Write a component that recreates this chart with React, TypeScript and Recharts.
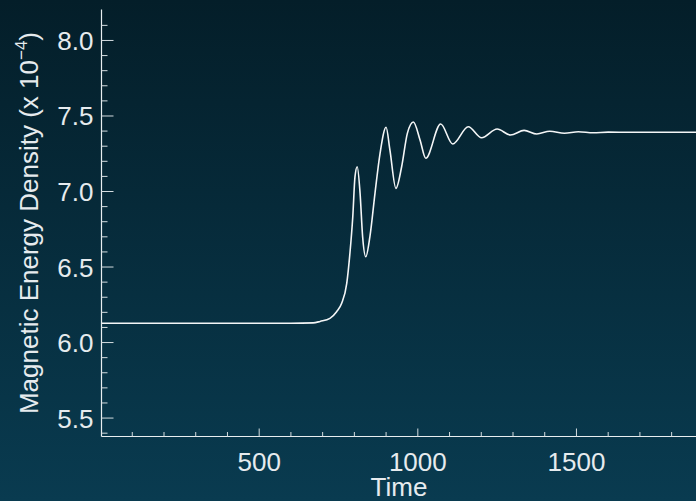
import React from "react";
import { LineChart, Line, XAxis, YAxis } from "recharts";

// time samples and magnetic energy density (x 1e-4)
const timeValues = [
  3, 300, 600, 670, 692, 723, 744, 760, 776, 786, 795, 802, 809, 818, 826, 836,
  849, 865, 881, 900, 912, 931, 949, 967, 986, 1007, 1025, 1072, 1110, 1159,
  1201, 1250, 1292, 1335, 1375, 1416, 1462, 1506, 1553, 1600, 1700, 1800, 1902,
];
const energyValues = [
  6.128, 6.128, 6.128, 6.13, 6.14, 6.16, 6.204, 6.26, 6.392, 6.591, 6.833,
  7.098, 7.164, 6.988, 6.701, 6.568, 6.701, 6.988, 7.253, 7.425, 7.275, 7.021,
  7.164, 7.385, 7.46, 7.341, 7.22, 7.447, 7.315, 7.429, 7.356, 7.414, 7.374,
  7.405, 7.381, 7.399, 7.386, 7.396, 7.389, 7.393, 7.392, 7.392, 7.392,
];

const xTicks = [
  100, 200, 300, 400, 500, 600, 700, 800, 900, 1000, 1100, 1200, 1300, 1400,
  1500, 1600, 1700, 1800, 1900,
];
const xMajor = [500, 1000, 1500];
const yTicks = [
  5.4, 5.5, 5.6, 5.7, 5.8, 5.9, 6.0, 6.1, 6.2, 6.3, 6.4, 6.5, 6.6, 6.7, 6.8,
  6.9, 7.0, 7.1, 7.2, 7.3, 7.4, 7.5, 7.6, 7.7, 7.8, 7.9, 8.0, 8.1,
];
const yMajor = [5.5, 6.0, 6.5, 7.0, 7.5, 8.0];

const data = timeValues.map((t, i) => ({ time: t, energy: energyValues[i] }));

const FONT = "'Liberation Sans', Arial, Helvetica, sans-serif";
const TEXT = "#e6ebee";
const TICK = "#d5dde0";
const PLOT_TOP = 9.5;
const PLOT_BOTTOM = 436.5;

const isMajor = (v: number, list: number[]) =>
  list.some((m) => Math.abs(m - v) < 1e-6);

const LeftTick = (props: any) => {
  const { x, y, payload } = props;
  const major = isMajor(payload.value, yMajor);
  return (
    <g>
      <line x1={x} y1={y} x2={x + (major ? 12 : 6)} y2={y} stroke={TICK} />
      {major && (
        <text x={x - 8} y={y + 9.5} textAnchor="end" fill={TEXT} fontSize={26} fontFamily={FONT}>
          {payload.value.toFixed(1)}
        </text>
      )}
    </g>
  );
};

const RightTick = (props: any) => {
  const { x, y, payload } = props;
  const major = isMajor(payload.value, yMajor);
  return <line x1={x} y1={y} x2={x - (major ? 12 : 6)} y2={y} stroke={TICK} />;
};

const BottomTick = (props: any) => {
  const { x, y, payload } = props;
  const major = isMajor(payload.value, xMajor);
  return (
    <g>
      <line x1={x} y1={y} x2={x} y2={y - (major ? 8 : 4.5)} stroke={TICK} />
      {major && (
        <text x={x} y={y + 34} textAnchor="middle" fill={TEXT} fontSize={26} fontFamily={FONT}>
          {payload.value}
        </text>
      )}
    </g>
  );
};

const TopTick = (props: any) => {
  const { x, y, payload } = props;
  const major = isMajor(payload.value, xMajor);
  return <line x1={x} y1={y} x2={x} y2={y + (major ? 8 : 4.5)} stroke={TICK} />;
};

const XTitle = () => (
  <text x={399} y={495.5} textAnchor="middle" fill={TEXT} fontSize={26} fontFamily={FONT}>
    Time
  </text>
);

const YTitle = () => {
  const cx = 37.5;
  const cy = (PLOT_TOP + PLOT_BOTTOM) / 2;
  return (
    <text
      x={cx}
      y={cy}
      textAnchor="middle"
      fill={TEXT}
      fontSize={26}
      fontFamily={FONT}
      transform={`rotate(-90, ${cx}, ${cy})`}
    >
      Magnetic Energy Density (x 10
      <tspan fontSize={17} dy={-11}>−4</tspan>
      <tspan dy={11}>)</tspan>
    </text>
  );
};

export default function App() {
  return (
    <div
      style={{
        position: "absolute",
        left: 0,
        top: 0,
        width: 696,
        height: 501,
        overflow: "hidden",
        background: "linear-gradient(to bottom, #041e29 0%, #093b50 100%)",
      }}
    >
      <LineChart
        width={712}
        height={501}
        data={data}
        margin={{ top: PLOT_TOP, right: 8, bottom: 0, left: 0 }}
      >
        <XAxis
          xAxisId="bottom"
          dataKey="time"
          type="number"
          domain={[3, 1902]}
          allowDataOverflow
          ticks={xTicks}
          interval={0}
          height={501 - PLOT_BOTTOM}
          tickSize={0}
          tickMargin={0}
          tickLine={false}
          tick={<BottomTick />}
          axisLine={{ stroke: "#e8eef0", strokeWidth: 1.2 }}
          label={<XTitle />}
        />
        <XAxis
          xAxisId="top"
          orientation="top"
          dataKey="time"
          type="number"
          domain={[3, 1902]}
          allowDataOverflow
          ticks={xTicks}
          interval={0}
          height={0}
          tickSize={0}
          tickMargin={0}
          tickLine={false}
          tick={<TopTick />}
          axisLine={{ stroke: "#e8eef0", strokeWidth: 1.2 }}
        />
        <YAxis
          yAxisId="left"
          type="number"
          domain={[5.378, 8.205]}
          allowDataOverflow
          ticks={yTicks}
          interval={0}
          width={101.5}
          tickSize={0}
          tickMargin={0}
          tickLine={false}
          tick={<LeftTick />}
          axisLine={{ stroke: "#e8eef0", strokeWidth: 1.2 }}
          label={<YTitle />}
        />
        <YAxis
          yAxisId="right"
          orientation="right"
          type="number"
          domain={[5.378, 8.205]}
          allowDataOverflow
          ticks={yTicks}
          interval={0}
          width={0}
          tickSize={0}
          tickMargin={0}
          tickLine={false}
          tick={<RightTick />}
          axisLine={{ stroke: "#e8eef0", strokeWidth: 1.2 }}
        />
        <Line
          xAxisId="bottom"
          yAxisId="left"
          type="monotone"
          dataKey="energy"
          stroke="#f4f6f7"
          strokeWidth={1.6}
          dot={false}
          isAnimationActive={false}
        />
      </LineChart>
    </div>
  );
}
